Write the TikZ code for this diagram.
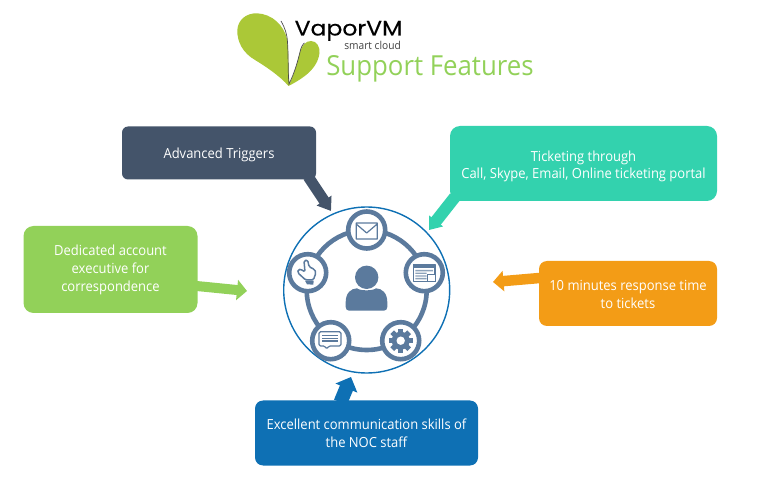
\documentclass[tikz,border=0pt]{standalone}
\usepackage{fontspec}
\setmainfont[FakeStretch=0.935]{Open Sans}
\newfontfamily\logofont[FakeBold=0.35]{Poppins}
\usetikzlibrary{arrows.meta,calc}
\definecolor{cdark}{HTML}{44546A}
\definecolor{cteal}{HTML}{33D2AE}
\definecolor{corange}{HTML}{F39C16}
\definecolor{cgreen}{HTML}{92D159}
\definecolor{cblue}{HTML}{0E70B4}
\definecolor{cicon}{HTML}{5B7A9D}
\definecolor{clogo}{HTML}{ABC837}
\tikzset{
 card/.style={rounded corners=#1,inner sep=0pt},
 card/.default=8pt,
 cardtext/.style={align=center,text=white,inner sep=0pt,font=\fontsize{13.9}{17.8}\selectfont},
 spoke/.style={circle,draw=cicon,line width=4.6pt,fill=white,minimum size=37pt,inner sep=0pt},
 iconline/.style={draw=cicon,line width=1.2pt,line join=round},
 pxgrid/.style={x=.3333pt,y=-.3333pt}
}
\begin{document}
\begin{tikzpicture}[x=1pt,y=-1pt]
\useasboundingbox (0,0) rectangle (764,481);
% logo
\fill[clogo] (288.5,86) .. controls (280,76) and (265,66) .. (255,60) .. controls (243,53) and (237,42) .. (237.3,30)
  .. controls (238,20) and (246,13) .. (257,13.3) .. controls (272,14) and (284,25) .. (287.3,40)
  .. controls (289,55) and (288,70) .. (289.5,84) .. controls (295,72) and (298,60) .. (300,52)
  .. controls (302,45) and (306,41) .. (311,41) .. controls (317,41) and (320,47) .. (319.5,53)
  .. controls (318,65) and (310,75) .. (288.5,86) -- cycle;
\draw[black!70,line width=.7pt] (281,21) .. controls (285,28) and (287,34) .. (287.5,42) .. controls (288.5,58) and (287.8,72) .. (289,84) .. controls (295,72) and (298,60) .. (300,52) .. controls (301,47) and (303,44) .. (304.5,43);
\node[font=\logofont\fontsize{21}{21}\selectfont,anchor=base,inner sep=0pt,xscale=1.12] (brand) at (348.5,35.5) {VaporVM};
\node[font=\fontsize{10.9}{11}\selectfont,anchor=base east,inner sep=0pt,text=black!75] (tag) at (401,49.5) {smart cloud};
\node[font=\fontsize{27.6}{28}\selectfont,anchor=base,inner sep=0pt,text=cgreen] (title) at (430,76) {Support Features};
% cards
\node[card=6pt,fill=cdark,minimum width=194pt,minimum height=53pt] (dark) at (219,153) {};
\node[card=10pt,fill=cteal,minimum width=267pt,minimum height=75pt] (teal) at (583.5,163.5) {};
\node[card=8pt,fill=corange,minimum width=178pt,minimum height=65pt] (orange) at (628,293.5) {};
\node[card=10pt,fill=cgreen,minimum width=174pt,minimum height=87pt] (green) at (110.5,269.5) {};
\node[card=8pt,fill=cblue,minimum width=223pt,minimum height=65pt] (blue) at (366.5,433) {};
\node[cardtext] (darktext) at ($(dark.center)+(0,2.3)$) {Advanced Triggers};
\node[cardtext] (tealtext) at ($(teal.center)+(0,2.8)$) {Ticketing through\\Call, Skype, Email, Online ticketing portal};
\node[cardtext] (orangetext) at ($(orange.center)+(0,1)$) {10 minutes response time\\to tickets};
\node[cardtext] (greentext) at ($(green.center)+(0,0.5)$) {Dedicated account\\executive for\\correspondence};
\node[cardtext] (bluetext) at ($(blue.center)+(0,0.5)$) {Excellent communication skills of\\the NOC staff};
% hub
\node[circle,draw=cblue,line width=1.4pt,minimum size=166pt,inner sep=0pt] (hub) at (366.7,290) {};
\node[circle,draw=cicon,line width=4.6pt,minimum size=120pt,inner sep=0pt] (ring) at (hub.center) {};
\node[spoke] (mail) at (366.7,230) {};
\node[spoke] (browser) at (424.3,272.7) {};
\node[spoke] (gear) at (400.7,340.7) {};
\node[spoke] (chat) at (330.7,340.7) {};
\node[spoke] (hand) at (307.7,272.7) {};
% pointers
\coordinate (darktip) at (331,211);
\coordinate (tealtip) at (429,230);
\coordinate (orangetip) at (493,282);
\coordinate (greentip) at (247,291);
\coordinate (bluetip) at (351,377);
\draw[cdark,line width=11pt,-{Triangle[width=17pt,length=12.5pt]}] ($(dark.south east)+(-8,-3)$) -- (darktip);
\draw[cteal,line width=12pt,-{Triangle[width=17pt,length=11.5pt]}] ($(teal.south west)+(5,-4)$) -- (tealtip);
\draw[corange,line width=10.5pt,-{Triangle[width=20pt,length=10.5pt]}] ($(orange.west)+(2,-15.6)$) -- (orangetip);
\draw[cgreen,line width=10pt,-{Triangle[width=20pt,length=10pt]}] ($(green.east)+(-2,16.4)$) -- (greentip);
\draw[cblue,line width=14pt,-{Triangle[width=23pt,length=12pt]}] ($(blue.north)+(-26,2)$) -- (bluetip);
% person
\fill[cicon] (hub.center) ++(0,-12.7) circle (11.7pt);
\fill[cicon] (349,310.7) .. controls (347,310.7) and (345.7,309) .. (345.7,307) -- (345.7,302) .. controls (345.7,293) and (351,288.5) .. (357,288.3) .. controls (360,291) and (373,291) .. (376,288.3) .. controls (382,288.5) and (387.3,293) .. (387.3,302) -- (387.3,307) .. controls (387.3,309) and (386,310.7) .. (384,310.7) -- cycle;
% mail icon
\draw[iconline] (356.2,223) rectangle (377.2,239) (356.2,224) -- (366.7,233) -- (377.2,224);
% browser icon
\begin{scope}[shift={(400,250)},pxgrid]
 \draw[iconline] (40,43) rectangle (105,95);
 \fill[cicon] (40,43) rectangle (105,55);
 \fill[cicon!70] (46,60) rectangle (99,64) (46,68) rectangle (80,72) (46,76) rectangle (80,80) (46,84) rectangle (80,88);
 \draw[iconline,fill=white,line width=.8pt] (83,72) rectangle (105,95);
\end{scope}
% gear icon
\foreach \a in {0,45,...,315}{
 \fill[cicon,rotate around={\a:(gear.center)}] ($(gear.center)+(-2.6,-12)$) rectangle ($(gear.center)+(2.6,0)$);
}
\fill[cicon] (gear.center) circle (9pt);
\fill[white] (gear.center) circle (4.2pt);
% chat icon
\begin{scope}[shift={(310,320)},pxgrid]
 \draw[iconline,rounded corners=1.5pt,fill=white] (27,35) -- (93,35) -- (93,78) -- (56,78) -- (50,88) -- (45,78) -- (27,78) -- cycle;
 \draw[iconline] (37,47) -- (83,47) (37,55) -- (83,55) (37,63) -- (83,63);
\end{scope}
% hand icon
\begin{scope}[shift={(285,250)},pxgrid]
 \draw[iconline,line width=1.5pt,rounded corners=1.5pt] (57,32) -- (68,30) -- (72,50) -- (88,58) -- (93,68) -- (85,90) -- (62,90) -- (38,68) -- (40,58) -- (48,58) -- (60,66) -- cycle;
 \fill[cicon] (60,92) -- (86,92) -- (85,104) -- (66,103) -- cycle;
\end{scope}
\end{tikzpicture}
\end{document}
